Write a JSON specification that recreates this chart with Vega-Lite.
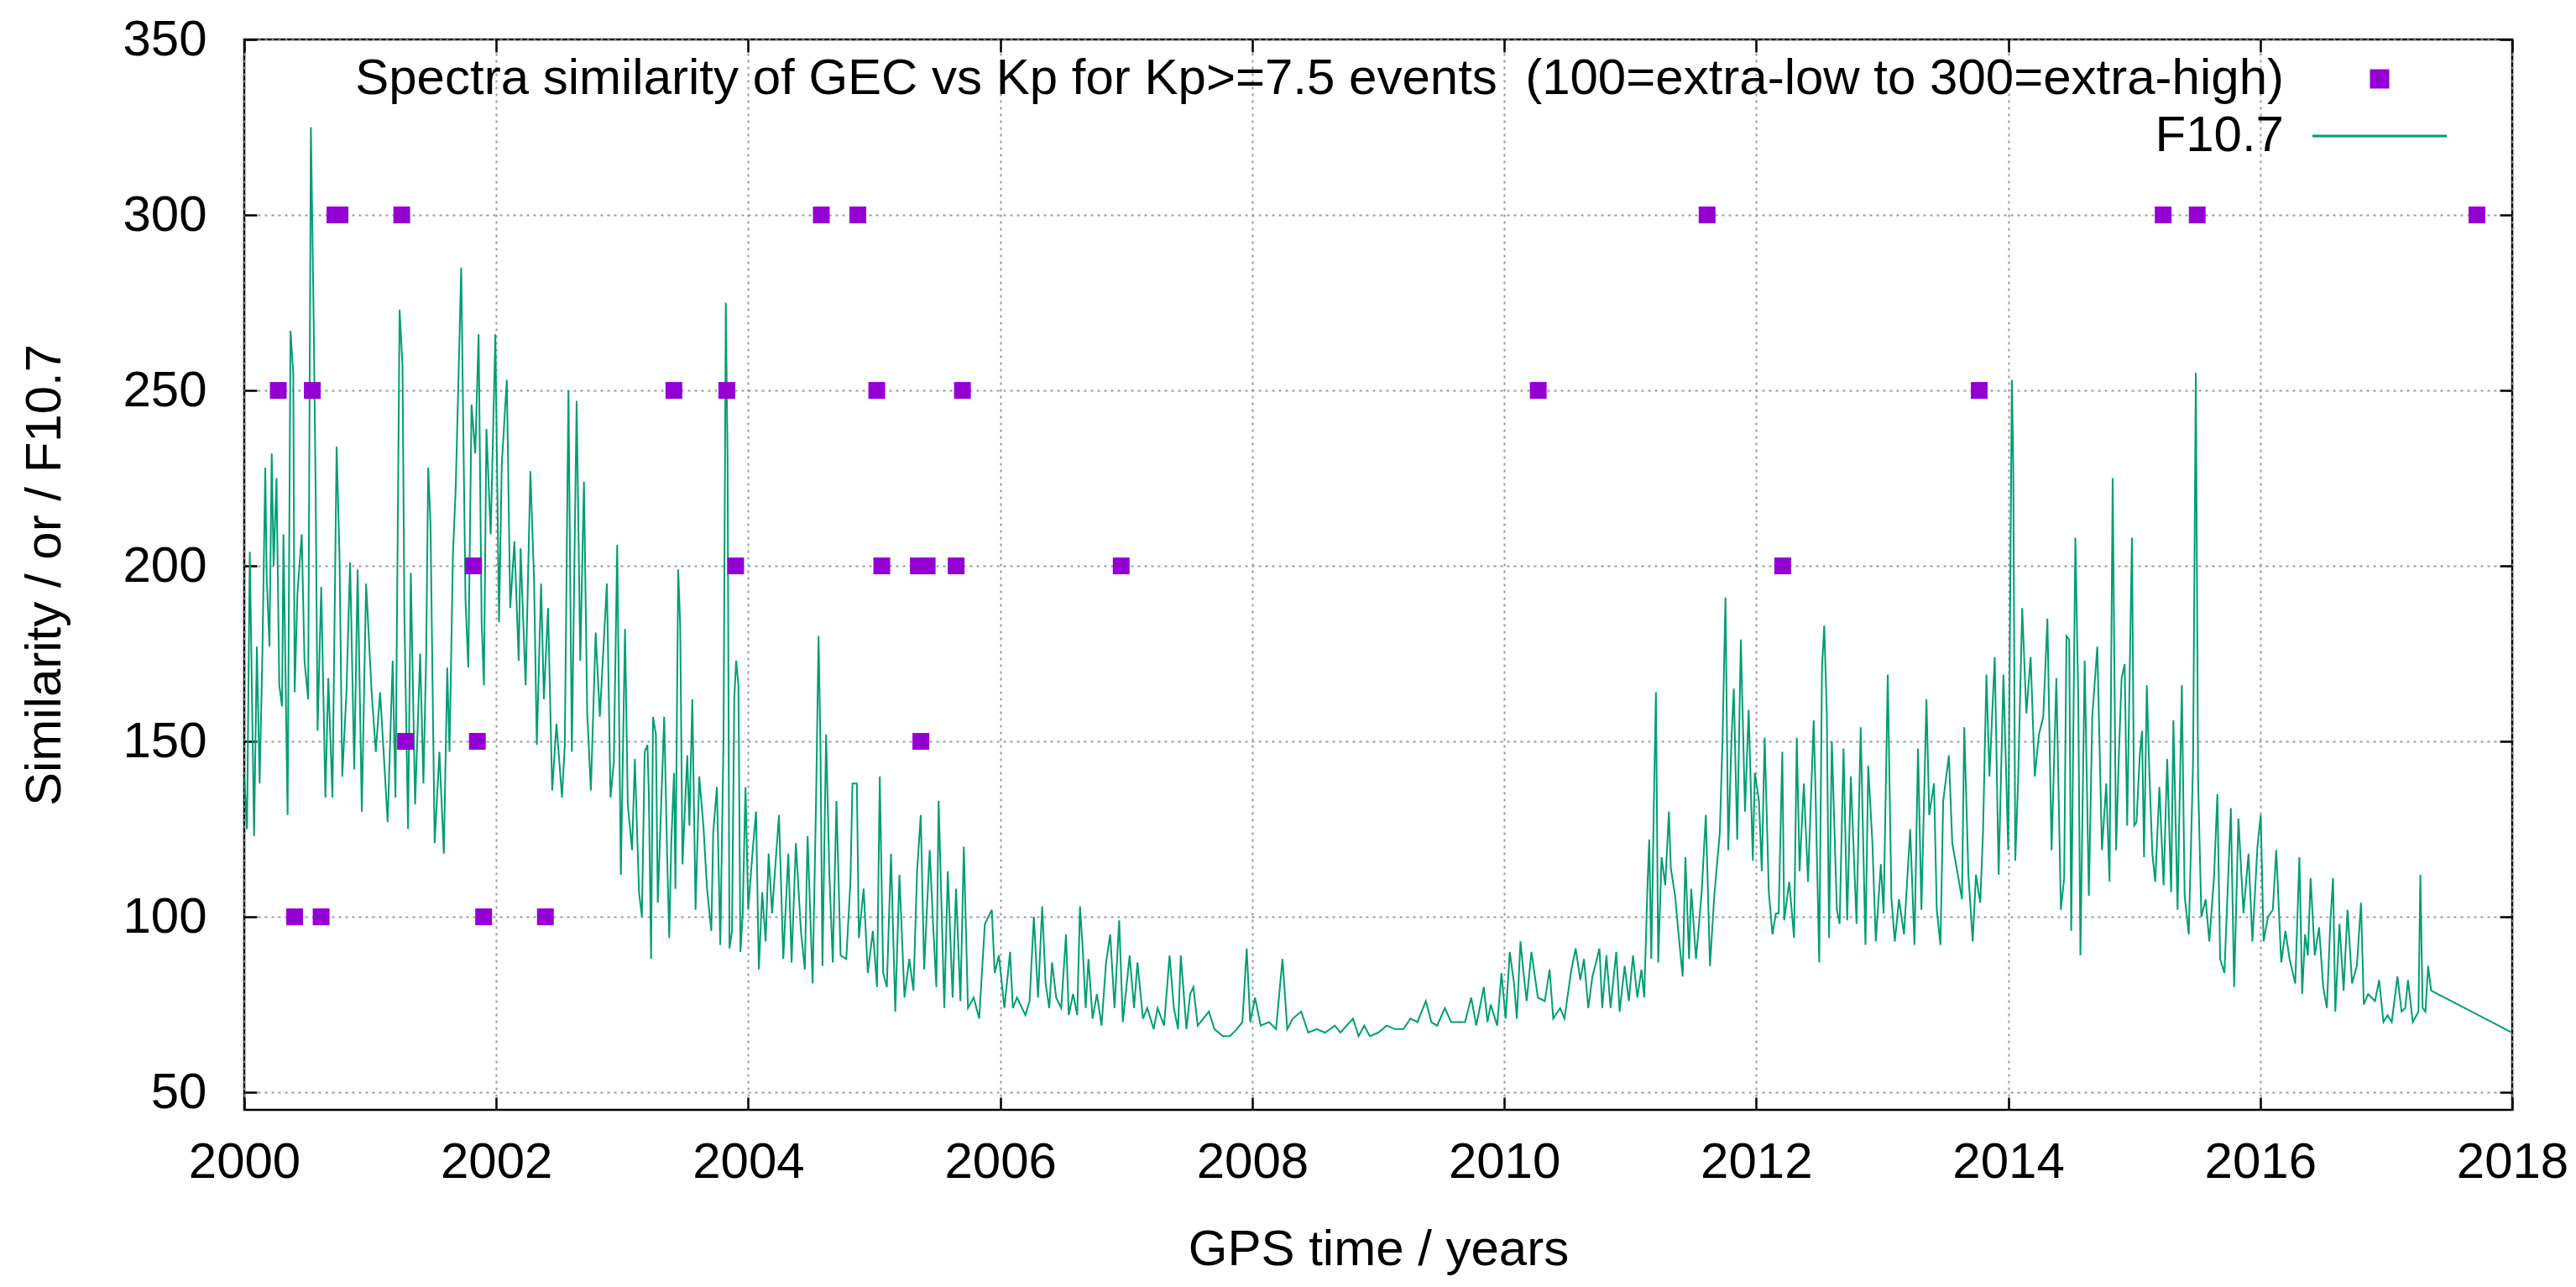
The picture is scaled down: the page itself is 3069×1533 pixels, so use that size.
{
"$schema": "https://vega.github.io/schema/vega-lite/v6.json",
"width": 2702, "height": 1275,
"autosize": {"type": "none"},
"padding": {"left": 291, "top": 47, "right": 76, "bottom": 211},
"background": "white",
"config": {
 "view": {"stroke": "black", "strokeWidth": 2.5},
 "font": "Liberation Sans",
 "axis": {"labelFont": "Liberation Sans", "labelFontSize": 60, "labelColor": "black", "labelFlush": false, "titleFont": "Liberation Sans", "titleFontSize": 60, "titleFontWeight": "normal", "titleColor": "black", "domain": false, "tickColor": "black", "tickWidth": 2.5, "tickSize": -15, "gridColor": "#999999", "gridDash": [3, 5], "gridWidth": 2},
 "legend": {"labelFont": "Liberation Sans", "labelFontSize": 60, "labelColor": "black"}
},
"datasets": {
 "f107": [
{"year":2000.000,"flux":140},{"year":2000.022,"flux":125},{"year":2000.044,"flux":204},{"year":2000.078,"flux":123},{"year":2000.100,"flux":177},{"year":2000.122,"flux":138},{"year":2000.144,"flux":175},{"year":2000.167,"flux":228},{"year":2000.178,"flux":197},{"year":2000.200,"flux":177},{"year":2000.218,"flux":232},{"year":2000.233,"flux":200},{"year":2000.256,"flux":225},{"year":2000.278,"flux":166},{"year":2000.300,"flux":160},{"year":2000.311,"flux":209},{"year":2000.344,"flux":129},{"year":2000.367,"flux":267},{"year":2000.389,"flux":255},{"year":2000.400,"flux":164},{"year":2000.422,"flux":192},{"year":2000.456,"flux":209},{"year":2000.478,"flux":173},{"year":2000.507,"flux":162},{"year":2000.529,"flux":325},{"year":2000.551,"flux":270},{"year":2000.567,"flux":220},{"year":2000.582,"flux":153},{"year":2000.611,"flux":194},{"year":2000.644,"flux":134},{"year":2000.667,"flux":168},{"year":2000.700,"flux":134},{"year":2000.733,"flux":234},{"year":2000.756,"flux":203},{"year":2000.778,"flux":140},{"year":2000.811,"flux":164},{"year":2000.840,"flux":201},{"year":2000.873,"flux":142},{"year":2000.900,"flux":199},{"year":2000.933,"flux":130},{"year":2000.967,"flux":195},
{"year":2001.011,"flux":164},{"year":2001.044,"flux":147},{"year":2001.078,"flux":164},{"year":2001.111,"flux":144},{"year":2001.138,"flux":127},{"year":2001.178,"flux":173},{"year":2001.200,"flux":134},{"year":2001.233,"flux":273},{"year":2001.256,"flux":257},{"year":2001.271,"flux":186},{"year":2001.300,"flux":125},{"year":2001.322,"flux":198},{"year":2001.356,"flux":132},{"year":2001.396,"flux":175},{"year":2001.422,"flux":138},{"year":2001.444,"flux":175},{"year":2001.460,"flux":228},{"year":2001.478,"flux":212},{"year":2001.511,"flux":121},{"year":2001.549,"flux":147},{"year":2001.584,"flux":118},{"year":2001.611,"flux":171},{"year":2001.629,"flux":147},{"year":2001.656,"flux":203},{"year":2001.678,"flux":222},{"year":2001.700,"flux":253},{"year":2001.722,"flux":285},{"year":2001.756,"flux":190},{"year":2001.778,"flux":171},{"year":2001.804,"flux":246},{"year":2001.833,"flux":232},{"year":2001.860,"flux":266},{"year":2001.884,"flux":184},{"year":2001.902,"flux":166},{"year":2001.922,"flux":239},{"year":2001.956,"flux":209},{"year":2001.993,"flux":266},
{"year":2002.022,"flux":184},{"year":2002.044,"flux":229},{"year":2002.084,"flux":253},{"year":2002.111,"flux":188},{"year":2002.144,"flux":207},{"year":2002.178,"flux":173},{"year":2002.193,"flux":205},{"year":2002.233,"flux":166},{"year":2002.271,"flux":227},{"year":2002.300,"flux":196},{"year":2002.322,"flux":149},{"year":2002.356,"flux":195},{"year":2002.378,"flux":162},{"year":2002.411,"flux":188},{"year":2002.444,"flux":136},{"year":2002.478,"flux":155},{"year":2002.522,"flux":134},{"year":2002.544,"flux":149},{"year":2002.573,"flux":250},{"year":2002.600,"flux":147},{"year":2002.638,"flux":247},{"year":2002.667,"flux":173},{"year":2002.696,"flux":224},{"year":2002.722,"flux":158},{"year":2002.751,"flux":136},{"year":2002.789,"flux":181},{"year":2002.822,"flux":157},{"year":2002.878,"flux":195},{"year":2002.907,"flux":134},{"year":2002.933,"flux":144},{"year":2002.960,"flux":206},{"year":2002.989,"flux":112},
{"year":2003.022,"flux":182},{"year":2003.044,"flux":132},{"year":2003.078,"flux":119},{"year":2003.100,"flux":145},{"year":2003.133,"flux":107},{"year":2003.156,"flux":100},{"year":2003.178,"flux":147},{"year":2003.200,"flux":149},{"year":2003.211,"flux":135},{"year":2003.229,"flux":88},{"year":2003.244,"flux":157},{"year":2003.267,"flux":152},{"year":2003.282,"flux":104},{"year":2003.307,"flux":130},{"year":2003.333,"flux":157},{"year":2003.356,"flux":118},{"year":2003.373,"flux":94},{"year":2003.389,"flux":121},{"year":2003.411,"flux":141},{"year":2003.422,"flux":108},{"year":2003.444,"flux":199},{"year":2003.460,"flux":183},{"year":2003.478,"flux":115},{"year":2003.516,"flux":146},{"year":2003.533,"flux":126},{"year":2003.556,"flux":162},{"year":2003.582,"flux":102},{"year":2003.611,"flux":140},{"year":2003.644,"flux":126},{"year":2003.673,"flux":108},{"year":2003.707,"flux":96},{"year":2003.722,"flux":124},{"year":2003.751,"flux":137},{"year":2003.778,"flux":92},{"year":2003.804,"flux":151},{"year":2003.822,"flux":275},{"year":2003.836,"flux":230},{"year":2003.851,"flux":91},{"year":2003.871,"flux":96},{"year":2003.889,"flux":162},{"year":2003.904,"flux":173},{"year":2003.922,"flux":166},{"year":2003.938,"flux":90},{"year":2003.956,"flux":101},{"year":2003.978,"flux":137},
{"year":2004.000,"flux":102},{"year":2004.033,"flux":118},{"year":2004.062,"flux":130},{"year":2004.084,"flux":85},{"year":2004.111,"flux":107},{"year":2004.138,"flux":93},{"year":2004.162,"flux":118},{"year":2004.189,"flux":101},{"year":2004.218,"flux":116},{"year":2004.244,"flux":129},{"year":2004.278,"flux":88},{"year":2004.318,"flux":118},{"year":2004.344,"flux":87},{"year":2004.378,"flux":121},{"year":2004.418,"flux":96},{"year":2004.449,"flux":85},{"year":2004.471,"flux":123},{"year":2004.511,"flux":81},{"year":2004.540,"flux":137},{"year":2004.558,"flux":180},{"year":2004.573,"flux":149},{"year":2004.589,"flux":86},{"year":2004.618,"flux":152},{"year":2004.644,"flux":112},{"year":2004.671,"flux":87},{"year":2004.700,"flux":133},{"year":2004.733,"flux":89},{"year":2004.778,"flux":88},{"year":2004.811,"flux":110},{"year":2004.827,"flux":138},{"year":2004.862,"flux":138},{"year":2004.878,"flux":94},{"year":2004.916,"flux":108},{"year":2004.949,"flux":84},{"year":2004.989,"flux":96},
{"year":2005.022,"flux":80},{"year":2005.044,"flux":140},{"year":2005.071,"flux":84},{"year":2005.100,"flux":80},{"year":2005.133,"flux":118},{"year":2005.167,"flux":73},{"year":2005.200,"flux":112},{"year":2005.240,"flux":77},{"year":2005.278,"flux":88},{"year":2005.311,"flux":79},{"year":2005.340,"flux":113},{"year":2005.369,"flux":129},{"year":2005.396,"flux":85},{"year":2005.440,"flux":119},{"year":2005.467,"flux":98},{"year":2005.493,"flux":80},{"year":2005.511,"flux":133},{"year":2005.556,"flux":74},{"year":2005.584,"flux":113},{"year":2005.622,"flux":77},{"year":2005.649,"flux":108},{"year":2005.684,"flux":76},{"year":2005.711,"flux":120},{"year":2005.744,"flux":74},{"year":2005.789,"flux":77},{"year":2005.833,"flux":71},{"year":2005.878,"flux":98},{"year":2005.933,"flux":102},{"year":2005.956,"flux":84},{"year":2005.989,"flux":89},
{"year":2006.033,"flux":74},{"year":2006.078,"flux":90},{"year":2006.100,"flux":74},{"year":2006.133,"flux":77},{"year":2006.200,"flux":72},{"year":2006.233,"flux":76},{"year":2006.267,"flux":100},{"year":2006.300,"flux":77},{"year":2006.333,"flux":103},{"year":2006.360,"flux":81},{"year":2006.389,"flux":74},{"year":2006.411,"flux":87},{"year":2006.444,"flux":77},{"year":2006.484,"flux":74},{"year":2006.522,"flux":95},{"year":2006.544,"flux":72},{"year":2006.578,"flux":78},{"year":2006.611,"flux":72},{"year":2006.633,"flux":103},{"year":2006.656,"flux":90},{"year":2006.678,"flux":74},{"year":2006.700,"flux":88},{"year":2006.733,"flux":71},{"year":2006.767,"flux":78},{"year":2006.804,"flux":69},{"year":2006.840,"flux":87},{"year":2006.873,"flux":95},{"year":2006.907,"flux":74},{"year":2006.944,"flux":99},{"year":2006.973,"flux":70},
{"year":2007.027,"flux":89},{"year":2007.062,"flux":74},{"year":2007.089,"flux":87},{"year":2007.133,"flux":71},{"year":2007.167,"flux":74},{"year":2007.218,"flux":68},{"year":2007.249,"flux":74},{"year":2007.300,"flux":69},{"year":2007.344,"flux":89},{"year":2007.378,"flux":74},{"year":2007.411,"flux":68},{"year":2007.433,"flux":89},{"year":2007.478,"flux":68},{"year":2007.507,"flux":78},{"year":2007.533,"flux":80},{"year":2007.567,"flux":69},{"year":2007.611,"flux":71},{"year":2007.656,"flux":73},{"year":2007.700,"flux":68},{"year":2007.767,"flux":66},{"year":2007.822,"flux":66},{"year":2007.878,"flux":68},{"year":2007.922,"flux":70},{"year":2007.956,"flux":91},{"year":2007.984,"flux":70},
{"year":2008.022,"flux":77},{"year":2008.067,"flux":69},{"year":2008.133,"flux":70},{"year":2008.189,"flux":68},{"year":2008.240,"flux":88},{"year":2008.278,"flux":68},{"year":2008.322,"flux":71},{"year":2008.389,"flux":73},{"year":2008.444,"flux":67},{"year":2008.511,"flux":68},{"year":2008.578,"flux":67},{"year":2008.656,"flux":69},{"year":2008.700,"flux":67},{"year":2008.800,"flux":71},{"year":2008.844,"flux":66},{"year":2008.889,"flux":69},{"year":2008.933,"flux":66},{"year":2009.000,"flux":67},
{"year":2009.067,"flux":69},{"year":2009.133,"flux":68},{"year":2009.200,"flux":68},{"year":2009.256,"flux":71},{"year":2009.311,"flux":70},{"year":2009.378,"flux":76},{"year":2009.422,"flux":70},{"year":2009.467,"flux":69},{"year":2009.529,"flux":74},{"year":2009.578,"flux":70},{"year":2009.633,"flux":70},{"year":2009.689,"flux":70},{"year":2009.738,"flux":77},{"year":2009.778,"flux":69},{"year":2009.838,"flux":80},{"year":2009.867,"flux":70},{"year":2009.893,"flux":75},{"year":2009.944,"flux":69},{"year":2009.978,"flux":84},
{"year":2010.011,"flux":71},{"year":2010.044,"flux":90},{"year":2010.078,"flux":81},{"year":2010.100,"flux":71},{"year":2010.129,"flux":93},{"year":2010.156,"flux":83},{"year":2010.178,"flux":76},{"year":2010.216,"flux":90},{"year":2010.267,"flux":77},{"year":2010.322,"flux":76},{"year":2010.360,"flux":85},{"year":2010.389,"flux":71},{"year":2010.444,"flux":74},{"year":2010.478,"flux":71},{"year":2010.533,"flux":85},{"year":2010.567,"flux":91},{"year":2010.604,"flux":82},{"year":2010.633,"flux":88},{"year":2010.667,"flux":74},{"year":2010.700,"flux":83},{"year":2010.756,"flux":91},{"year":2010.778,"flux":74},{"year":2010.811,"flux":89},{"year":2010.844,"flux":74},{"year":2010.889,"flux":90},{"year":2010.916,"flux":73},{"year":2010.956,"flux":86},{"year":2010.989,"flux":76},
{"year":2011.022,"flux":89},{"year":2011.056,"flux":77},{"year":2011.089,"flux":85},{"year":2011.111,"flux":77},{"year":2011.138,"flux":110},{"year":2011.151,"flux":122},{"year":2011.167,"flux":88},{"year":2011.189,"flux":135},{"year":2011.204,"flux":164},{"year":2011.222,"flux":87},{"year":2011.249,"flux":117},{"year":2011.278,"flux":109},{"year":2011.307,"flux":130},{"year":2011.322,"flux":114},{"year":2011.356,"flux":106},{"year":2011.389,"flux":93},{"year":2011.416,"flux":83},{"year":2011.438,"flux":117},{"year":2011.467,"flux":88},{"year":2011.484,"flux":108},{"year":2011.522,"flux":88},{"year":2011.567,"flux":107},{"year":2011.600,"flux":129},{"year":2011.633,"flux":86},{"year":2011.667,"flux":106},{"year":2011.711,"flux":124},{"year":2011.733,"flux":151},{"year":2011.756,"flux":191},{"year":2011.778,"flux":119},{"year":2011.804,"flux":151},{"year":2011.822,"flux":165},{"year":2011.849,"flux":122},{"year":2011.878,"flux":179},{"year":2011.911,"flux":130},{"year":2011.940,"flux":159},{"year":2011.973,"flux":116},{"year":2011.989,"flux":141},
{"year":2012.022,"flux":133},{"year":2012.044,"flux":113},{"year":2012.067,"flux":151},{"year":2012.100,"flux":107},{"year":2012.129,"flux":95},{"year":2012.156,"flux":101},{"year":2012.178,"flux":101},{"year":2012.207,"flux":147},{"year":2012.222,"flux":99},{"year":2012.262,"flux":110},{"year":2012.300,"flux":94},{"year":2012.322,"flux":151},{"year":2012.344,"flux":113},{"year":2012.378,"flux":138},{"year":2012.411,"flux":110},{"year":2012.456,"flux":156},{"year":2012.471,"flux":135},{"year":2012.500,"flux":87},{"year":2012.522,"flux":171},{"year":2012.540,"flux":183},{"year":2012.560,"flux":158},{"year":2012.578,"flux":94},{"year":2012.600,"flux":150},{"year":2012.640,"flux":102},{"year":2012.662,"flux":98},{"year":2012.693,"flux":148},{"year":2012.722,"flux":99},{"year":2012.751,"flux":140},{"year":2012.796,"flux":98},{"year":2012.829,"flux":154},{"year":2012.867,"flux":92},{"year":2012.889,"flux":143},{"year":2012.922,"flux":121},{"year":2012.949,"flux":93},{"year":2012.989,"flux":115},
{"year":2013.011,"flux":101},{"year":2013.044,"flux":169},{"year":2013.073,"flux":105},{"year":2013.100,"flux":93},{"year":2013.133,"flux":105},{"year":2013.173,"flux":95},{"year":2013.222,"flux":125},{"year":2013.256,"flux":92},{"year":2013.284,"flux":148},{"year":2013.311,"flux":102},{"year":2013.351,"flux":162},{"year":2013.373,"flux":129},{"year":2013.411,"flux":138},{"year":2013.433,"flux":102},{"year":2013.462,"flux":92},{"year":2013.484,"flux":133},{"year":2013.529,"flux":146},{"year":2013.556,"flux":121},{"year":2013.600,"flux":112},{"year":2013.633,"flux":105},{"year":2013.651,"flux":154},{"year":2013.684,"flux":112},{"year":2013.718,"flux":93},{"year":2013.744,"flux":112},{"year":2013.778,"flux":104},{"year":2013.800,"flux":124},{"year":2013.827,"flux":169},{"year":2013.851,"flux":140},{"year":2013.893,"flux":174},{"year":2013.924,"flux":112},{"year":2013.962,"flux":169},
{"year":2014.000,"flux":119},{"year":2014.029,"flux":253},{"year":2014.040,"flux":229},{"year":2014.056,"flux":116},{"year":2014.078,"flux":138},{"year":2014.111,"flux":188},{"year":2014.144,"flux":158},{"year":2014.178,"flux":174},{"year":2014.211,"flux":140},{"year":2014.244,"flux":152},{"year":2014.278,"flux":157},{"year":2014.311,"flux":185},{"year":2014.344,"flux":119},{"year":2014.382,"flux":168},{"year":2014.418,"flux":102},{"year":2014.444,"flux":111},{"year":2014.462,"flux":180},{"year":2014.484,"flux":179},{"year":2014.500,"flux":96},{"year":2014.533,"flux":208},{"year":2014.556,"flux":162},{"year":2014.573,"flux":89},{"year":2014.607,"flux":173},{"year":2014.640,"flux":106},{"year":2014.667,"flux":157},{"year":2014.707,"flux":177},{"year":2014.744,"flux":119},{"year":2014.778,"flux":138},{"year":2014.804,"flux":110},{"year":2014.829,"flux":225},{"year":2014.856,"flux":119},{"year":2014.878,"flux":146},{"year":2014.900,"flux":168},{"year":2014.924,"flux":172},{"year":2014.944,"flux":126},{"year":2014.982,"flux":208},
{"year":2015.000,"flux":126},{"year":2015.018,"flux":127},{"year":2015.044,"flux":146},{"year":2015.062,"flux":153},{"year":2015.078,"flux":117},{"year":2015.100,"flux":166},{"year":2015.122,"flux":139},{"year":2015.144,"flux":118},{"year":2015.167,"flux":110},{"year":2015.200,"flux":137},{"year":2015.233,"flux":109},{"year":2015.262,"flux":145},{"year":2015.293,"flux":107},{"year":2015.311,"flux":156},{"year":2015.344,"flux":102},{"year":2015.378,"flux":166},{"year":2015.400,"flux":106},{"year":2015.433,"flux":95},{"year":2015.467,"flux":144},{"year":2015.489,"flux":255},{"year":2015.507,"flux":139},{"year":2015.533,"flux":100},{"year":2015.567,"flux":105},{"year":2015.596,"flux":93},{"year":2015.633,"flux":111},{"year":2015.660,"flux":135},{"year":2015.682,"flux":88},{"year":2015.716,"flux":84},{"year":2015.767,"flux":131},{"year":2015.793,"flux":80},{"year":2015.827,"flux":128},{"year":2015.867,"flux":101},{"year":2015.907,"flux":118},{"year":2015.938,"flux":93},{"year":2015.978,"flux":120},
{"year":2016.004,"flux":129},{"year":2016.027,"flux":93},{"year":2016.062,"flux":100},{"year":2016.100,"flux":102},{"year":2016.127,"flux":119},{"year":2016.167,"flux":87},{"year":2016.200,"flux":96},{"year":2016.233,"flux":88},{"year":2016.278,"flux":81},{"year":2016.311,"flux":117},{"year":2016.333,"flux":78},{"year":2016.356,"flux":95},{"year":2016.378,"flux":89},{"year":2016.400,"flux":111},{"year":2016.433,"flux":89},{"year":2016.467,"flux":97},{"year":2016.500,"flux":80},{"year":2016.529,"flux":74},{"year":2016.556,"flux":98},{"year":2016.578,"flux":111},{"year":2016.596,"flux":73},{"year":2016.629,"flux":98},{"year":2016.662,"flux":79},{"year":2016.693,"flux":102},{"year":2016.729,"flux":81},{"year":2016.767,"flux":86},{"year":2016.800,"flux":104},{"year":2016.822,"flux":75},{"year":2016.856,"flux":78},{"year":2016.911,"flux":76},{"year":2016.944,"flux":82},{"year":2016.978,"flux":70},
{"year":2017.011,"flux":72},{"year":2017.044,"flux":70},{"year":2017.089,"flux":83},{"year":2017.122,"flux":73},{"year":2017.151,"flux":74},{"year":2017.173,"flux":82},{"year":2017.211,"flux":70},{"year":2017.256,"flux":73},{"year":2017.271,"flux":112},{"year":2017.289,"flux":74},{"year":2017.311,"flux":73},{"year":2017.333,"flux":86},{"year":2017.356,"flux":79},{"year":2018.000,"flux":67}
 ],
 "sim": [
{"year":2000.72,"similarity":300},{"year":2000.76,"similarity":300},{"year":2001.25,"similarity":300},{"year":2004.58,"similarity":300},{"year":2004.87,"similarity":300},{"year":2011.61,"similarity":300},{"year":2015.23,"similarity":300},{"year":2015.50,"similarity":300},{"year":2017.72,"similarity":300},
{"year":2000.27,"similarity":250},{"year":2000.54,"similarity":250},{"year":2003.41,"similarity":250},{"year":2003.83,"similarity":250},{"year":2005.02,"similarity":250},{"year":2005.70,"similarity":250},{"year":2010.27,"similarity":250},{"year":2013.77,"similarity":250},
{"year":2001.82,"similarity":200},{"year":2003.90,"similarity":200},{"year":2005.06,"similarity":200},{"year":2005.35,"similarity":200},{"year":2005.42,"similarity":200},{"year":2005.65,"similarity":200},{"year":2006.96,"similarity":200},{"year":2012.21,"similarity":200},
{"year":2001.28,"similarity":150},{"year":2001.85,"similarity":150},{"year":2005.37,"similarity":150},
{"year":2000.40,"similarity":100},{"year":2000.61,"similarity":100},{"year":2001.90,"similarity":100},{"year":2002.39,"similarity":100}
 ]
},
"resolve": {"axis": {"x": "independent", "y": "independent"}},
"layer": [
 {
  "data": {"name": "f107"},
  "mark": {"type": "line", "strokeWidth": 2, "clip": true},
  "encoding": {
   "x": {"field": "year", "type": "quantitative", "scale": {"domain": [2000, 2018], "nice": false, "zero": false},
     "axis": {"orient": "bottom", "values": [2000,2002,2004,2006,2008,2010,2012,2014,2016,2018], "format": "d", "title": "GPS time / years", "grid": true, "labelPadding": 48, "titlePadding": 45,
       "encode": {"grid": {"update": {"y": {"signal": "scale('y', 314) - height"}, "y2": {"value": 0}}}}}},
   "y": {"field": "flux", "type": "quantitative", "scale": {"domain": [45, 350], "nice": false, "zero": false},
     "axis": {"orient": "left", "values": [50,100,150,200,250,300,350], "title": "Similarity / or / F10.7", "grid": true, "labelPadding": 60, "titlePadding": 61}},
   "color": {"datum": "F10.7", "type": "nominal",
     "scale": {"domain": ["Spectra similarity of GEC vs Kp for Kp>=7.5 events\u00a0 (100=extra-low to 300=extra-high)", "F10.7"], "range": ["#9400d3", "#009e73"]},
     "legend": {"title": null, "orient": "none", "legendX": 2514, "legendY": 17, "padding": 0, "symbolSize": 400, "labelAlign": "right", "labelOffset": -144, "labelLimit": 0, "labelFontSize": 60, "rowPadding": 8,
       "encode": {"symbols": {"update": {
         "shape": {"signal": "datum.value === 'F10.7' ? 'M-8,0H8' : 'M-1,-1H1V1H-1Z'"},
         "fill": {"signal": "datum.value === 'F10.7' ? 'transparent' : '#9400d3'"},
         "stroke": {"signal": "datum.value === 'F10.7' ? '#009e73' : 'transparent'"},
         "strokeWidth": {"value": 3},
         "opacity": {"value": 1}
       }}}}}
  }
 },
 {
  "data": {"name": "sim"},
  "mark": {"type": "square", "size": 400, "opacity": 1},
  "encoding": {
   "x": {"field": "year", "type": "quantitative", "scale": {"domain": [2000, 2018], "nice": false, "zero": false},
     "axis": {"orient": "top", "values": [2000,2002,2004,2006,2008,2010,2012,2014,2016,2018], "labels": false, "title": null, "grid": false}},
   "y": {"field": "similarity", "type": "quantitative", "scale": {"domain": [45, 350], "nice": false, "zero": false},
     "axis": {"orient": "right", "values": [50,100,150,200,250,300,350], "labels": false, "title": null, "grid": false}},
   "color": {"datum": "Spectra similarity of GEC vs Kp for Kp>=7.5 events\u00a0 (100=extra-low to 300=extra-high)", "type": "nominal"}
  }
 }
]
}
